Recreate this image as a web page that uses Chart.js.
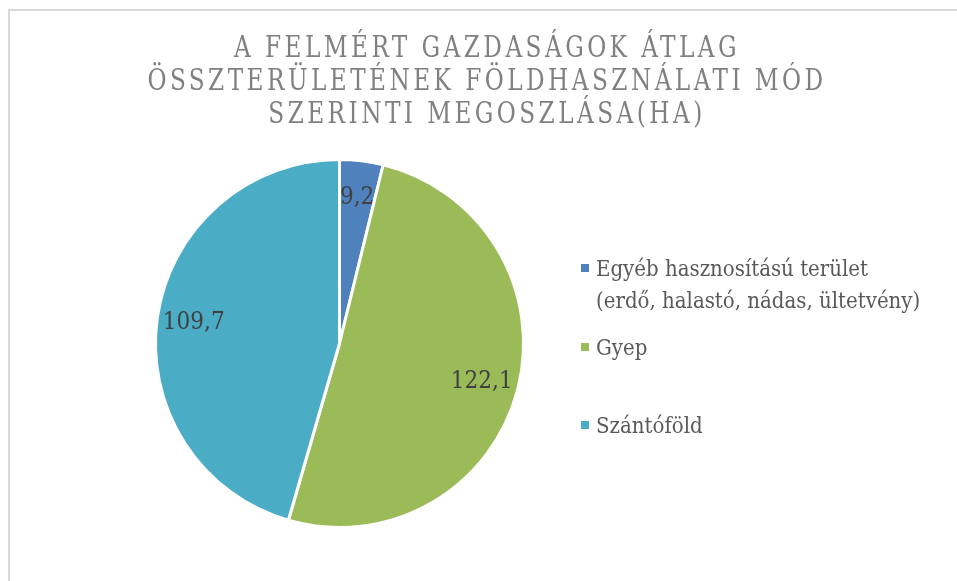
<!DOCTYPE html>
<html>
<head>
<meta charset="utf-8">
<script src="https://cdn.jsdelivr.net/npm/chart.js@4.4.0/dist/chart.umd.min.js"></script>
<style>
    html, body { margin: 0; padding: 0; background: #ffffff; }
    #keret {
        position: absolute; left: 8px; top: 9px; width: 949px; height: 572px;
        border-left: 2px solid #d9d9d9; border-top: 2px solid #d9d9d9;
        box-sizing: border-box;
    }
    #doboz { position: absolute; left: 0; top: 0; width: 957px; height: 581px; }
</style>
</head>
<body>
<div id="keret"></div>
<div id="doboz"><canvas id="myChart" width="957" height="581"></canvas></div>
<script>
// adatok
const kategoriak = [
    ['Egyéb hasznosítású terület', '(erdő, halastó, nádas, ültetvény)'],
    ['Gyep'],
    ['Szántóföld']
];
const ertekek = [9.2, 122.1, 109.7];
const cimSorok = [
    'A FELMÉRT GAZDASÁGOK ÁTLAG',
    'ÖSSZTERÜLETÉNEK FÖLDHASZNÁLATI MÓD',
    'SZERINTI MEGOSZLÁSA(HA)'
];
const szinek = ['#4F81BD', '#9BBB59', '#4BACC6'];

const betu = '"DejaVu Serif Condensed", "DejaVu Serif", serif';

// cím rajzolása betűközzel, kicsit összenyomva
const cimPlugin = {
    id: 'cim',
    afterDraw(chart) {
        const ctx = chart.ctx;
        ctx.save();
        ctx.translate(487, 0);
        ctx.scale(0.86, 1);
        ctx.font = '30px ' + betu;
        ctx.fillStyle = '#808080';
        ctx.textAlign = 'center';
        ctx.textBaseline = 'middle';
        ctx.letterSpacing = '4px';
        cimSorok.forEach(function (sor, i) {
            ctx.fillText(sor, 0, 49 + i * 33);
        });
        ctx.restore();
    }
};

// jelmagyarázat
const jelmagyarazatPlugin = {
    id: 'jelmagyarazat',
    afterDraw(chart) {
        const ctx = chart.ctx;
        const sorY = [268, 347, 425];
        ctx.save();
        ctx.font = '22px ' + betu;
        ctx.textBaseline = 'middle';
        ctx.textAlign = 'left';
        kategoriak.forEach(function (kat, i) {
            ctx.fillStyle = szinek[i];
            ctx.fillRect(581, sorY[i] - 4, 8, 8);
            ctx.fillStyle = '#595959';
            kat.forEach(function (sor, j) {
                ctx.fillText(sor, 596, sorY[i] + 2 + j * 32);
            });
        });
        ctx.restore();
    }
};

// értékcímkék a szeletekre
const cimkePlugin = {
    id: 'cimkek',
    afterDatasetsDraw(chart) {
        const ctx = chart.ctx;
        const meta = chart.getDatasetMeta(0);
        ctx.save();
        ctx.font = '24px ' + betu;
        ctx.fillStyle = '#404040';
        ctx.textAlign = 'center';
        ctx.textBaseline = 'middle';
        meta.data.forEach(function (iv, i) {
            const p = iv.getProps(['x', 'y', 'startAngle', 'endAngle', 'outerRadius'], true);
            const szog = (p.startAngle + p.endAngle) / 2;
            const r = p.outerRadius * 0.8;
            const szoveg = ertekek[i].toFixed(1).replace('.', ',');
            ctx.fillText(szoveg, p.x + Math.cos(szog) * r, p.y + Math.sin(szog) * r);
        });
        ctx.restore();
    }
};

const config = {
    type: 'pie',
    data: {
        labels: kategoriak.map(k => k.join(' ')),
        datasets: [{
            data: ertekek,
            backgroundColor: szinek,
            borderColor: '#ffffff',
            borderWidth: 3
        }]
    },
    options: {
        responsive: false,
        animation: false,
        layout: {
            padding: { left: 154, right: 432, top: 158, bottom: 52 }
        },
        plugins: {
            legend: { display: false },
            title: { display: false },
            tooltip: { enabled: false }
        }
    },
    plugins: [cimPlugin, jelmagyarazatPlugin, cimkePlugin]
};

const myChart = new Chart(document.getElementById('myChart').getContext('2d'), config);
</script>
</body>
</html>
